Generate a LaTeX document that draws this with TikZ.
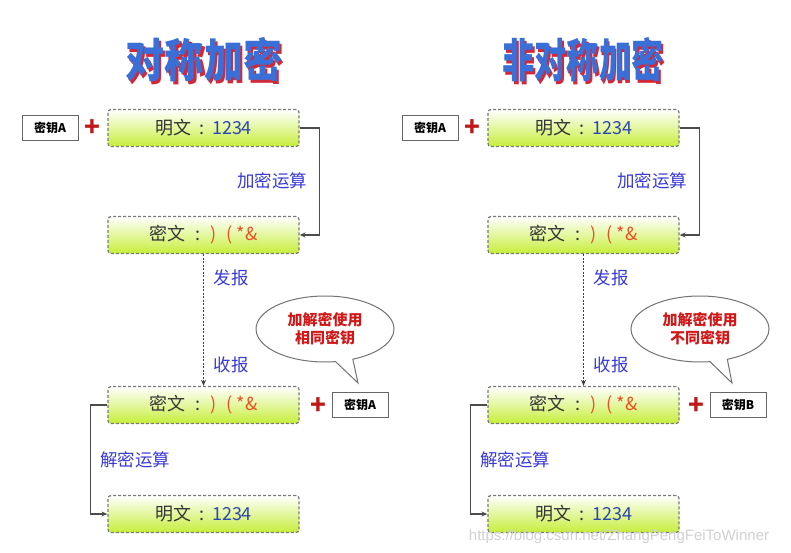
\documentclass[tikz,border=0pt]{standalone}
\usepackage{fontspec}
\newfontfamily\cjk{Noto Sans CJK SC}
\newfontfamily\wm{Liberation Sans}
\usetikzlibrary{shapes.callouts,arrows.meta}
\definecolor{boxline}{HTML}{7A7A7A}
\definecolor{boxgreen}{HTML}{C6EE3A}
\definecolor{lblblue}{HTML}{3A3AD8}
\definecolor{numblue}{HTML}{2D46B0}
\definecolor{cipred}{HTML}{E8502A}
\definecolor{bubred}{HTML}{D01818}
\definecolor{plusred}{HTML}{C01818}
\definecolor{titleblue}{HTML}{3B6FD8}
\definecolor{titlered}{HTML}{D02A3A}
\newcommand{\plaintxt}{明文\hspace{8pt}:\hspace{8pt}\textcolor{numblue}{1234}}
\newcommand{\ciphertxt}{密文\hspace{10pt}:\hspace{10pt}\textcolor{cipred}{)\hspace{10pt}(\hspace{4pt}*\&}}
\newcommand{\shadowtitle}[1]{\makebox[0pt][l]{\hspace{2.5pt}\raisebox{-2.5pt}{\textcolor{titlered}{#1}}}\textcolor{titleblue}{#1}}
\tikzset{
  msgbox/.style={rectangle, rounded corners=3pt, draw=boxline, line width=1.3pt,
    dash pattern=on 3pt off 2pt, top color=white, bottom color=boxgreen,
    minimum width=191, minimum height=37, inner sep=0pt,
    font=\cjk\fontsize{18}{21}\selectfont, text=black!80},
  keybox/.style={rectangle, draw=black!60, line width=1pt, fill=white,
    minimum width=56, minimum height=25, inner sep=0pt,
    font=\cjk\bfseries\fontsize{12}{14}\selectfont},
  plus/.style={font=\cjk\bfseries\fontsize{26}{26}\selectfont, text=plusred, inner sep=0pt},
  lbl/.style={font=\cjk\fontsize{17.5}{20}\selectfont, text=lblblue, inner sep=0pt},
  conn/.style={draw=black!70, line width=1.1pt, -{Stealth[length=6pt,width=5pt]}},
  dotconn/.style={draw=black!75, line width=1.1pt, dash pattern=on 2pt off 1.5pt, -{Stealth[length=6pt,width=5pt]}},
  bubble/.style={ellipse callout, draw=black!55, line width=1pt, fill=white,
    minimum width=138, minimum height=66, inner sep=0pt, align=center,
    font=\cjk\bfseries\fontsize{15}{18}\selectfont, text=bubred},
  titlestyle/.style={font=\cjk\bfseries\fontsize{46}{50}\selectfont, inner sep=0pt},
}
\begin{document}
\begin{tikzpicture}[x=1pt,y=-1pt]
\useasboundingbox (0,0) rectangle (791,553);
\fill[white] (0,0) rectangle (791,553);
% ---------- left panel ----------
\node[titlestyle, xscale=0.85] (t1) at (204,61) {\shadowtitle{对称加密}};
\node[keybox] (k1) at (50,128) {密钥A};
\node[plus] (p1) at (92,128) {+};
\node[msgbox] (a1) at (203.5,128) {\plaintxt};
\node[msgbox] (a2) at (203.5,235) {\ciphertxt};
\node[msgbox] (a3) at (203.5,405) {\ciphertxt};
\node[msgbox] (a4) at (203.5,514) {\plaintxt};
\node[plus] (p2) at (318,406) {+};
\node[keybox] (k2) at (360,405) {密钥A};
\node[bubble, callout absolute pointer={(358,383)}] (bb1) at (325,329) {加解密使用\\相同密钥};
\draw[conn] (a1.east) -- ++(20,0) |- (a2.east);
\draw[dotconn] (a2.south) -- (a3.north);
\draw[conn] (a3.west) -- ++(-17,0) |- (a4.west);
\node[lbl] (l1) at (272,181) {加密运算};
\node[lbl] (l2) at (231,278) {发报};
\node[lbl] (l3) at (231,365) {收报};
\node[lbl] (l4) at (135,460) {解密运算};
% ---------- right panel ----------
\node[titlestyle, xscale=0.70] (t2) at (583,61) {\shadowtitle{非对称加密}};
\node[keybox] (k3) at (430,128) {密钥A};
\node[plus] (p3) at (472,128) {+};
\node[msgbox] (b1) at (583.5,128) {\plaintxt};
\node[msgbox] (b2) at (583.5,235) {\ciphertxt};
\node[msgbox] (b3) at (583.5,405) {\ciphertxt};
\node[msgbox] (b4) at (583.5,514) {\plaintxt};
\node[plus] (p4) at (696,406) {+};
\node[keybox] (k4) at (738,405) {密钥B};
\node[bubble, callout absolute pointer={(732,383)}] (bb2) at (700,329) {加解密使用\\不同密钥};
\draw[conn] (b1.east) -- ++(20,0) |- (b2.east);
\draw[dotconn] (b2.south) -- (b3.north);
\draw[conn] (b3.west) -- ++(-17,0) |- (b4.west);
\node[lbl] (r1) at (652,181) {加密运算};
\node[lbl] (r2) at (611,278) {发报};
\node[lbl] (r3) at (611,365) {收报};
\node[lbl] (r4) at (515,460) {解密运算};
% watermark
\node[font=\wm\fontsize{15}{17}\selectfont, text=black!18, inner sep=0pt] (wmk) at (619,537) {https://blog.csdn.net/ZhangPengFeiToWinner};
\end{tikzpicture}
\end{document}
